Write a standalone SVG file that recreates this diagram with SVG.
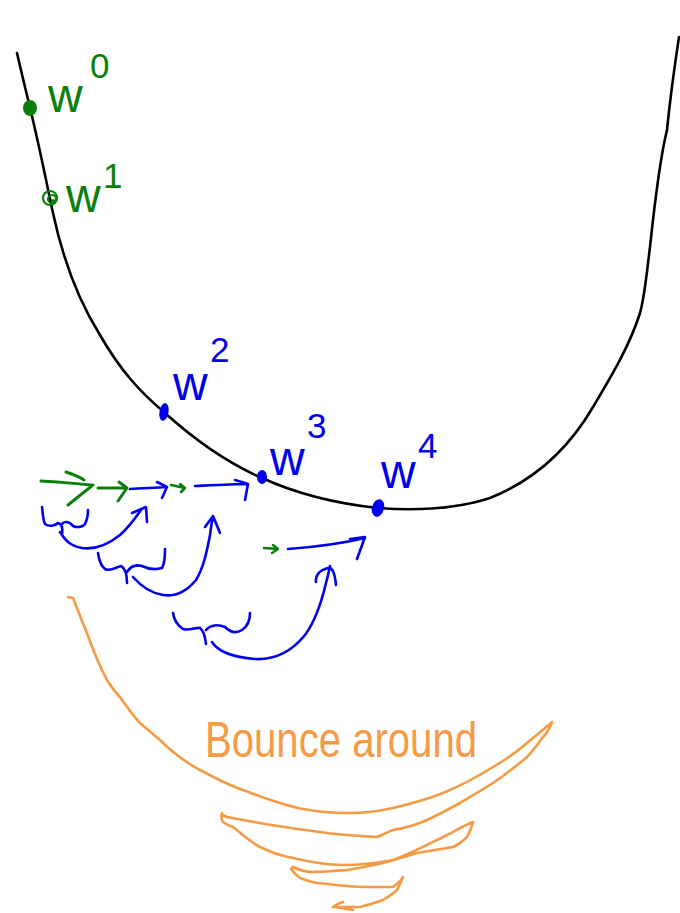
<svg xmlns="http://www.w3.org/2000/svg" width="680" height="913" viewBox="0 0 680 913">
<style>
.ink{fill:none;stroke-linecap:round;stroke-linejoin:round}
.k{stroke:#000;stroke-width:2.6}
.g{stroke:#0a800a;stroke-width:3}
.b{stroke:#0000ee;stroke-width:2.6}
.o{stroke:#f59a45;stroke-width:2.6}
.lg{font-family:"Liberation Sans",Arial,sans-serif;fill:#0a800a}
.lb{font-family:"Liberation Sans",Arial,sans-serif;fill:#0000ee}
.w{font-size:48px}
.s{font-size:35px}
</style>
<rect width="680" height="913" fill="#fff"/>
<g id="curve">
<path class="ink k" d="M17,53 C22,75 27,95 30,108 C38,140 46,180 53,213 C62,255 78,300 100,335 C120,370 140,392 165,413 C195,440 225,462 262,478 C295,493 330,503 378,508 C420,511 460,508 490,498 C530,482 565,455 593,407 C612,375 630,345 640,313 C645,295 647,270 650,247 C655,200 662,150 667,130 C670,100 674,70 679,37"/>
</g>
<g id="w0">
<ellipse cx="30" cy="108" rx="7" ry="8" fill="#0a800a"/>
<text class="lg w" x="48" y="112">w</text>
<text class="lg s" x="90" y="78">0</text>
</g>
<g id="w1">
<circle class="ink g" cx="50" cy="198" r="7" style="stroke-width:2.2"/>
<circle class="ink g" cx="52" cy="199" r="4" style="stroke-width:2.2"/>
<circle cx="53" cy="201" r="2" fill="#0a800a"/>
<text class="lg w" x="66" y="212">w</text>
<text class="lg s" x="103" y="188">1</text>
</g>
<g id="w2">
<ellipse cx="164" cy="412" rx="4.5" ry="9" fill="#0000ee" transform="rotate(10 164 412)"/>
<text class="lb w" x="173" y="400">w</text>
<text class="lb s" x="210" y="362">2</text>
</g>
<g id="w3">
<ellipse cx="262" cy="477" rx="5" ry="7" fill="#0000ee"/>
<text class="lb w" x="270" y="475">w</text>
<text class="lb s" x="307" y="438">3</text>
</g>
<g id="w4">
<ellipse cx="378" cy="508" rx="6" ry="9" fill="#0000ee" transform="rotate(15 378 508)"/>
<text class="lb w" x="381" y="488">w</text>
<text class="lb s" x="418" y="458">4</text>
</g>
<g id="connectors">
<path class="ink g" d="M41,481 C60,482 80,484 93,485 M66,472 C72,474 80,477 84,480 M93,485 L78,497 L68,505"/>
<path class="ink g" d="M98,488 L127,488 M119,482 L127,488 L118,501"/>
<path class="ink b" d="M130,489 C145,488 155,488 167,487 M157,482 L167,487 L162,498"/>
<path class="ink g" style="stroke-width:2.5" d="M171,485 L185,488 M180,484 L185,488 L181,492"/>
<path class="ink b" d="M195,486 C215,485 232,484 248,484 M235,480 L248,484 L245,500"/>
<path class="ink g" style="stroke-width:2.5" d="M264,548 L278,549 M273,545 L278,549 L272,553"/>
<path class="ink b" d="M288,549 C315,547 340,544 365,538 M350,539 L365,537 L357,559"/>
<path class="ink b" d="M42,507 C43,515 43,520 45,524 C49,527 55,526 58,523 C62,524 63,528 62,534 M62,524 C64,521 69,521 73,526 C77,528 83,527 85,524 C87,520 88,515 88,510"/>
<path class="ink b" d="M60,532 C65,540 70,546 82,548 C96,550 110,543 120,535 C128,528 134,520 141,510 M132,513 L146,507 L147,522"/>
<path class="ink b" d="M98,553 C99,560 101,566 105,569 C111,572 116,567 121,566 C125,568 127,573 127,583 M127,572 C130,567 135,564 142,566 C148,569 155,570 162,568 C165,563 165,556 165,549"/>
<path class="ink b" d="M133,577 C140,585 150,593 163,595 C175,597 186,592 196,580 C204,567 207,550 210,535 C211,527 212,521 213,516 M205,527 L213,516 L220,533"/>
<path class="ink b" d="M173,613 C174,620 177,625 183,629 C190,631 196,627 200,628 C205,632 205,638 206,644 M206,630 C210,625 218,624 225,627 C230,632 236,634 242,630 C248,626 250,620 250,613"/>
<path class="ink b" d="M212,642 C217,650 230,657 255,659 C275,660 292,651 305,635 C316,620 322,600 326,583 C328,576 329,571 330,566 M316,582 C315,575 320,570 328,568 C333,567 335,575 336,585"/>
</g>
<g id="bounce">
<path class="ink o" d="M68,597 L73,598 C78,610 82,622 87,633 C93,650 100,667 107,680 C112,688 116,693 120,697 C127,707 133,716 140,723 C147,729 154,735 160,740 C172,752 185,762 200,770 C215,778 228,785 243,790 C262,797 282,805 303,809 C318,812 335,813 350,813 C365,813 380,811 393,808 C410,804 428,799 443,793 C460,786 477,777 493,767 C505,760 517,752 527,743 C537,735 545,728 552,722 C550,728 547,733 543,737 C538,744 533,751 527,757 C515,767 505,775 493,783 C482,790 470,797 460,803 C449,809 438,815 427,820 C416,825 405,828 393,830 C388,832 382,835 377,837 C360,836 343,835 327,833 C305,830 282,827 260,823 C248,821 237,819 227,817 C224,816 222,815 222,813 C221,817 221,820 223,822 C227,825 230,826 233,827 C242,834 250,842 260,847 C270,852 282,856 293,858 C310,862 327,865 343,865 C360,865 377,863 393,860 C410,854 427,845 443,837 C453,832 463,826 473,822 C472,827 470,832 467,837 C462,842 458,845 453,847 C441,849 429,851 417,853 C407,856 397,859 387,862 C374,865 360,868 347,870 C335,871 322,872 310,872 C303,871 297,869 293,867 C291,868 291,869 292,870 C294,873 297,876 300,878 C305,880 311,882 317,883 C334,885 350,887 367,887 C376,887 385,887 393,887 C397,884 401,881 403,877 C401,882 399,886 397,890 C393,894 388,897 383,900 C375,903 368,905 360,907 C352,907 344,907 337,907 M333,907 C335,905 337,904 343,902 M335,907 C341,908 347,909 353,910"/>
<text x="205" y="757" font-family="'Liberation Sans',Arial,sans-serif" font-size="50" fill="#f59a45" textLength="272" lengthAdjust="spacingAndGlyphs">Bounce around</text>
</g>
</svg>
